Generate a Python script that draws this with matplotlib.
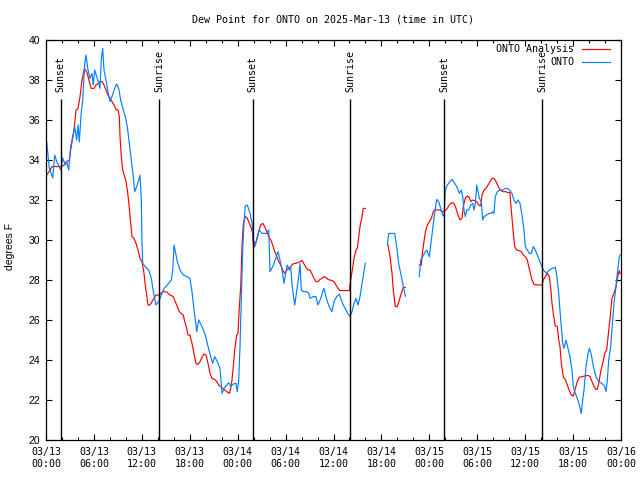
import numpy as np
import matplotlib
matplotlib.use("Agg")
import matplotlib.pyplot as plt

nan = np.nan

# ---- data (hours since 2025-03-13 00:00 UTC, dew point in deg F) ----
onto_hours = [
    0.09, 0.41, 0.84, 1.09, 1.34, 1.59, 1.84, 2.09, 2.42, 2.59, 2.84, 3.09, 3.34, 3.59, 3.84,
    4.01, 4.17, 4.42, 4.60, 4.85, 5.01, 5.26, 5.51, 5.76, 5.92, 6.10, 6.35, 6.60, 6.76, 6.92,
    7.10, 7.26, 7.51, 7.76, 8.01, 8.26, 8.60, 8.85, 9.10, 9.35, 9.68, 9.93, 10.18, 10.43, 10.68,
    10.93, 11.10, 11.36, 11.61, 11.77, 11.93, 12.02, 12.11, 12.43, 12.86, 13.19, 13.44, 13.77,
    14.11, 14.36, 14.78, 15.19, 15.69, 15.87, 16.03, 16.19, 16.44, 16.78, 17.19, 17.62, 18.03,
    18.28, 18.53, 18.70, 18.87, 19.12, 19.53, 19.95, 20.29, 20.62, 20.87, 21.12, 21.45, 21.79,
    22.04, 22.29, 22.63, 22.88, 23.13, 23.45, 23.79, 23.95, 24.13, 24.29, 24.46, 24.63, 24.79,
    24.96, 25.21, 25.55, 25.80, 25.96, 26.21, 26.46, 26.71, 27.05, 27.64, 27.89, 28.05, 28.39,
    28.71, 29.05, 29.30, 29.55, 29.80, 29.97, 30.22, 30.47, 30.64, 30.80, 30.97, 31.14, 31.39,
    31.64, 31.81, 31.97, 32.22, 32.64, 32.90, 33.06, 33.47, 33.81, 34.06, 34.40, 34.65, 34.81,
    35.06, 35.31, 35.56, 35.81, 36.06, 36.40, 36.73, 36.98, 37.23, 37.57, 37.90, 38.07, 38.32,
    38.57, 38.82, 39.07, 39.32, 39.57, 39.82, 39.98,
    nan,
    42.74, 42.91, 43.66, 43.91, 44.16, 44.42, 44.67, 44.83, 44.99,
    nan,
    46.74, 46.92, 47.17, 47.50, 47.67, 48.00, 48.25, 48.58, 48.92, 49.17, 49.42, 49.67, 49.84,
    50.00, 50.25, 50.59, 50.84, 51.18, 51.43, 51.76, 52.00, 52.18, 52.34, 52.50, 52.68, 52.93,
    53.18, 53.43, 53.59, 53.76, 53.93, 54.09, 54.26, 54.51, 54.68, 54.85, 55.18, 55.51, 55.76,
    55.94, 56.10, 56.26, 56.51, 56.85, 57.19, 57.52, 57.77, 58.02, 58.35, 58.60, 58.85, 59.10,
    59.35, 59.60, 59.85, 60.02, 60.27, 60.52, 60.77, 61.02, 61.27, 61.52, 61.77, 62.02, 62.27,
    62.70, 63.02, 63.36, 63.77, 63.95, 64.20, 64.45, 64.70, 64.86, 65.11, 65.36, 65.61, 65.86,
    66.03, 66.28, 66.53, 66.78, 67.03, 67.20, 67.37, 67.62, 67.87, 68.04, 68.29, 68.54, 68.87,
    69.21, 69.62, 69.96, 70.12, 70.29, 70.46, 70.71, 70.87, 71.12, 71.37, 71.54, 71.79, 71.88,
]
onto_values = [
    34.90, 33.60, 33.10, 34.25, 33.92, 33.75, 33.50, 34.10, 33.75, 33.92, 33.50, 34.67, 35.17, 35.67, 35.00,
    35.75, 34.90, 36.42, 37.00, 38.83, 39.25, 38.50, 38.08, 38.33, 37.75, 38.50, 38.17, 37.83, 37.58, 39.00,
    39.58, 38.50, 38.00, 37.42, 36.92, 37.17, 37.58, 37.80, 37.58, 37.00, 36.50, 36.17, 35.67, 34.83, 34.00,
    33.17, 32.42, 32.67, 33.00, 33.25, 32.08, 29.90, 28.83, 28.67, 28.50, 28.08, 27.42, 26.75,
    26.92, 27.17, 27.58, 27.75, 28.00, 28.50, 29.75, 29.42, 28.92, 28.50, 28.25, 28.17, 28.08,
    27.42, 26.50, 26.00, 25.42, 26.00, 25.67, 25.25, 24.67, 24.17, 23.83, 24.17, 23.92, 23.58,
    22.33, 22.58, 22.75, 22.87, 22.67, 22.80, 22.83, 22.42, 23.00, 24.67, 27.17, 29.50, 30.83,
    31.70, 31.75, 31.33, 30.83, 30.00, 29.75, 30.17, 30.50, 30.33, 30.33, 30.50, 28.42, 28.67,
    29.00, 29.42, 29.00, 28.50, 27.83, 28.25, 28.75, 28.50, 28.67, 27.83, 27.25, 26.75, 27.42,
    28.17, 28.83, 27.50, 27.42, 27.42, 27.33, 27.08, 27.17, 27.17, 26.75, 27.08, 27.42, 27.58,
    27.17, 26.83, 26.58, 26.42, 26.92, 27.17, 27.30, 27.00, 26.75, 26.50, 26.25, 26.17, 26.42,
    26.83, 27.08, 26.75, 27.17, 27.83, 28.42, 28.83,
    nan,
    29.75, 30.33, 30.33, 29.67, 28.83, 28.33, 27.83, 27.50, 27.20,
    nan,
    28.17, 29.00, 29.17, 29.42, 29.50, 29.17, 30.00, 31.08, 32.03, 31.92, 31.58, 31.25, 31.17,
    32.50, 32.75, 32.92, 33.03, 32.83, 32.67, 32.33, 32.50, 32.17, 31.50, 31.17, 31.50, 31.50,
    31.75, 31.83, 31.50, 31.83, 32.75, 32.42, 32.08, 31.92, 31.00, 31.17, 31.25, 31.33, 31.33,
    31.42, 31.33, 32.17, 32.42, 32.50, 32.50, 32.58, 32.58, 32.50, 32.33, 32.00, 31.83, 32.00,
    31.83, 31.25, 30.50, 29.67, 29.50, 29.33, 29.33, 29.67, 29.50, 29.25, 29.00, 28.75, 28.50,
    28.33, 28.50, 28.58, 28.63, 28.25, 27.33, 26.00, 24.83, 24.58, 25.00, 24.58, 24.17, 23.50,
    22.67, 22.33, 22.08, 21.75, 21.33, 22.00, 22.50, 23.67, 24.33, 24.58, 24.25, 23.67, 23.17,
    22.92, 22.83, 22.67, 22.42, 23.00, 24.00, 24.67, 25.50, 26.83, 27.67, 28.33, 29.17, 29.25,
]

analysis_hours = [
    0.09, 0.50, 0.75, 2.00, 2.25, 2.59, 2.92, 3.09, 3.34, 3.51, 3.76, 4.01, 4.26, 4.51, 4.76,
    4.92, 5.17, 5.42, 5.67, 6.01, 6.26, 6.51, 6.76, 7.01, 7.26, 7.51, 7.76, 8.01, 8.26, 8.51,
    8.77, 9.02, 9.18, 9.27, 9.43, 9.60, 9.85, 10.02, 10.18, 10.36, 10.52, 10.68, 10.77, 11.02,
    11.27, 11.52, 11.77, 12.02, 12.27, 12.43, 12.61, 12.77, 13.02, 13.27, 13.52, 13.77, 14.11,
    14.36, 14.69, 15.11, 15.53, 15.94, 16.19, 16.44, 16.69, 16.94, 17.19, 17.37, 17.62, 17.78,
    18.03, 18.28, 18.53, 18.78, 19.03, 19.28, 19.53, 19.78, 20.04, 20.29, 20.54, 20.79, 21.12,
    21.37, 21.63, 21.88, 22.13, 22.38, 22.63, 22.95, 23.13, 23.29, 23.45, 23.63, 23.88, 24.04,
    24.21, 24.38, 24.46, 24.54, 24.71, 24.96, 25.21, 25.46, 25.71, 25.88, 25.96, 26.13, 26.38,
    26.63, 26.88, 27.13, 27.39, 27.64, 27.89, 28.14, 28.39, 28.64, 28.89, 29.14, 29.39, 29.64,
    29.89, 30.14, 30.39, 30.64, 30.89, 31.22, 31.56, 31.81, 32.06, 32.31, 32.56, 32.81, 33.06,
    33.31, 33.56, 33.81, 34.06, 34.31, 34.56, 34.81, 35.06, 35.31, 35.56, 35.81, 36.06, 36.31,
    36.56, 36.81, 37.98, 38.15, 38.32, 38.57, 38.82, 38.98, 39.16, 39.32, 39.57, 39.73, 39.98,
    nan,
    42.83, 43.08, 43.33, 43.49, 43.74, 43.99, 44.24, 44.49, 44.74, 44.99,
    nan,
    46.74, 46.99, 47.08, 47.24, 47.50, 47.75, 48.00, 48.25, 48.50, 48.75, 49.00, 49.34, 49.59,
    49.84, 50.17, 50.50, 50.84, 51.09, 51.34, 51.59, 51.84, 52.09, 52.25, 52.50, 52.75, 53.00,
    53.18, 53.43, 53.93, 54.18, 54.43, 54.60, 54.85, 55.10, 55.35, 55.60, 55.85, 56.10, 56.35,
    56.60, 56.85, 57.19, 57.52, 57.85, 58.10, 58.19, 58.35, 58.52, 58.69, 58.94, 59.27, 59.52,
    59.77, 60.02, 60.27, 60.45, 60.70, 60.86, 61.11, 61.61, 62.11, 62.27, 62.52, 62.77, 63.02,
    63.19, 63.36, 63.52, 63.77, 64.02, 64.20, 64.36, 64.53, 64.78, 65.03, 65.28, 65.53, 65.78,
    66.03, 66.28, 66.53, 66.78, 67.13, 67.46, 67.87, 68.12, 68.37, 68.62, 68.87, 69.04, 69.21,
    69.46, 69.71, 69.96, 70.21, 70.38, 70.63, 70.87, 71.12, 71.37, 71.54, 71.79, 71.88,
]
analysis_values = [
    33.25, 33.50, 33.67, 33.67, 33.75, 33.92, 34.00, 34.50, 35.08, 35.50, 36.50, 36.58, 37.17, 38.00, 38.50,
    38.53, 38.33, 37.92, 37.58, 37.58, 37.75, 37.83, 37.92, 37.92, 37.75, 37.50, 37.25, 37.08, 36.92, 36.75,
    36.53, 36.50, 36.17, 35.17, 34.17, 33.50, 33.17, 32.92, 32.50, 31.92, 31.17, 30.50, 30.17, 30.08,
    29.83, 29.50, 29.08, 28.92, 28.33, 27.75, 27.25, 26.75, 26.75, 26.92, 27.08, 27.25, 27.25,
    27.33, 27.42, 27.40, 27.25, 27.17, 26.92, 26.67, 26.42, 26.33, 26.25, 25.92, 25.58, 25.25,
    25.25, 24.83, 24.33, 23.83, 23.78, 23.92, 24.13, 24.30, 24.25, 23.83, 23.33, 23.08, 23.03,
    22.92, 22.75, 22.67, 22.58, 22.50, 22.42, 22.33, 22.58, 23.00, 23.67, 24.50, 25.25, 25.33,
    26.67, 27.67, 28.67, 29.67, 30.83, 31.17, 31.08, 30.83, 30.58, 30.33, 29.75, 29.67, 30.00,
    30.42, 30.75, 30.83, 30.67, 30.42, 30.17, 30.00, 29.75, 29.42, 29.17, 28.92, 28.75, 28.50,
    28.33, 28.50, 28.58, 28.67, 28.80, 28.83, 28.87, 28.92, 28.97, 28.80, 28.63, 28.50, 28.50,
    28.30, 28.08, 27.92, 27.92, 28.03, 28.08, 28.17, 28.13, 28.03, 28.00, 27.97, 27.92, 27.75,
    27.58, 27.47, 27.47, 28.00, 28.42, 29.08, 29.50, 29.58, 30.17, 30.67, 31.17, 31.58, 31.58,
    nan,
    29.75, 29.17, 28.33, 27.50, 26.67, 26.67, 27.00, 27.33, 27.63, 27.63,
    nan,
    28.75, 28.75, 29.17, 29.67, 30.40, 30.75, 30.92, 31.08, 31.42, 31.53, 31.50, 31.50, 31.42,
    31.42, 31.53, 31.75, 31.87, 31.83, 31.58, 31.25, 31.00, 31.08, 31.67, 32.08, 32.20, 32.13,
    31.92, 32.00, 31.92, 31.75, 31.70, 32.25, 32.50, 32.58, 32.75, 32.92, 33.08, 33.08, 32.92,
    32.70, 32.50, 32.42, 32.42, 32.37, 32.37, 31.83, 31.08, 30.33, 29.67, 29.50, 29.47, 29.42,
    29.25, 29.17, 29.00, 28.67, 28.25, 28.00, 27.78, 27.75, 27.75, 28.00, 28.17, 28.33, 28.17,
    27.67, 26.83, 26.33, 25.70, 25.67, 25.00, 24.67, 23.83, 23.13, 23.03, 22.75, 22.47, 22.25,
    22.20, 22.58, 22.92, 23.13, 23.17, 23.20, 23.23, 23.17, 22.92, 22.67, 22.53, 22.53, 22.83,
    23.42, 23.83, 24.33, 24.50, 25.17, 26.08, 27.08, 27.33, 27.67, 28.08, 28.47, 28.33,
]

sun_event_hours = [1.84, 14.15, 25.88, 38.11, 49.88, 62.15]
sun_event_labels = ["Sunset", "Sunrise", "Sunset", "Sunrise", "Sunset", "Sunrise"]

xtick_hours = list(range(0, 73, 6))
xtick_labels = ["03/13\n00:00", "03/13\n06:00", "03/13\n12:00", "03/13\n18:00",
                "03/14\n00:00", "03/14\n06:00", "03/14\n12:00", "03/14\n18:00",
                "03/15\n00:00", "03/15\n06:00", "03/15\n12:00", "03/15\n18:00",
                "03/16\n00:00"]
ytick_values = list(range(20, 41, 2))

series_names = ["ONTO Analysis", "ONTO"]
series_colors = ["#ff0000", "#0080ff"]

title = "Dew Point for ONTO on 2025-Mar-13 (time in UTC)"
ylabel = "degrees F"

# ---- figure ----
mono = "DejaVu Sans Mono"
sans = "Liberation Sans"

fig = plt.figure(figsize=(6.4, 4.8), dpi=100)
ax = fig.add_axes([46 / 640, 1 - 440 / 480, 575 / 640, 400 / 480])

ax.plot(analysis_hours, analysis_values, color=series_colors[0], lw=0.85)
ax.plot(onto_hours, onto_values, color=series_colors[1], lw=0.85)

ax.set_xlim(0, 72)
ax.set_ylim(20, 40)

for h, lab in zip(sun_event_hours, sun_event_labels):
    ax.vlines(h, 20, 37.05, color="black", lw=1.0)
    ax.text(h, 37.4, lab, rotation=90, ha="center", va="bottom",
            fontsize=7.2, family=mono)

ax.set_xticks(xtick_hours)
ax.set_xticklabels(xtick_labels, family=mono, fontsize=7.2)
ax.set_xticks(np.arange(0, 73, 2), minor=True)
ax.set_yticks(ytick_values)
ax.set_yticklabels([str(v) for v in ytick_values], family=sans, fontsize=7.5)

ax.tick_params(axis="both", which="major", direction="in", length=4.5, width=0.8,
               top=True, right=True, color="black")
ax.tick_params(axis="x", which="major", pad=5)
ax.tick_params(axis="y", which="major", pad=4)
ax.tick_params(axis="x", which="minor", direction="in", length=2.2, width=0.8, top=True)
for s in ax.spines.values():
    s.set_linewidth(0.9)

fig.text(333.5 / 640, 1 - 20 / 480, title, ha="center", va="center",
         family=mono, fontsize=7.2)
fig.text(10 / 640, 1 - 246 / 480, ylabel, ha="center", va="center",
         rotation=90, family=sans, fontsize=7.5)

# legend (top right, text right-aligned, line sample to the right)
leg_rows_y = [49, 62]
for name, col, yy in zip(series_names, series_colors, leg_rows_y):
    fy = 1 - yy / 480
    fig.text(574 / 640, fy, name, ha="right", va="center", family=mono, fontsize=7.2)
    fig.add_artist(plt.Line2D([582 / 640, 610 / 640], [fy, fy], color=col, lw=0.85,
                              transform=fig.transFigure))

fig.savefig("out.png", dpi=100)
